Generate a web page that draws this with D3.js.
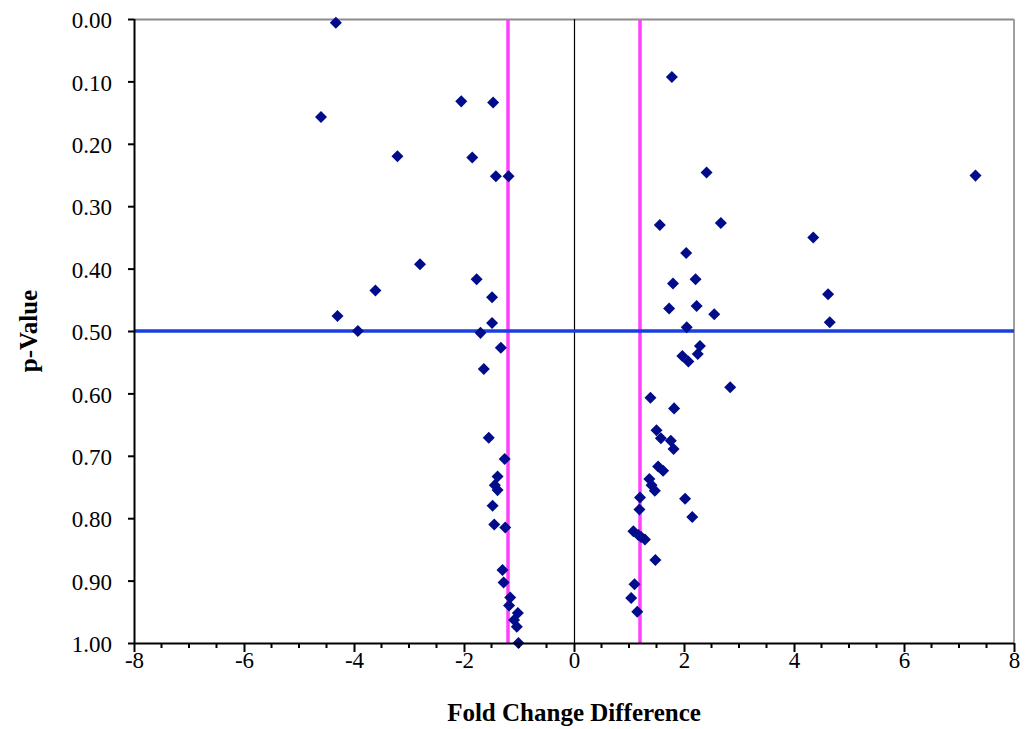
<!DOCTYPE html>
<html><head><meta charset="utf-8">
<script src="https://cdn.jsdelivr.net/npm/d3@7"></script>
<style>body{margin:0;background:#fff}svg{display:block}</style>
</head><body>
<svg id="c" width="1029" height="729"></svg>
<script>
const foldChange = [-4.33,-4.60,-3.21,-2.05,-1.47,-1.85,-1.42,-1.19,
 -2.80,-1.77,-3.61,-4.30,-3.93,-1.49,-1.49,-1.70,-1.33,-1.64,
 -1.55,-1.26,-1.39,-1.44,-1.39,-1.48,-1.45,-1.25,-1.30,-1.28,-1.16,-1.18,-1.02,-1.09,-1.04,-1.01,
 1.78,2.41,1.56,2.67,2.04,1.80,2.21,1.73,2.23,2.55,2.05,2.29,1.97,2.08,2.25,2.84,
 1.39,1.82,1.50,1.58,1.76,1.81,1.53,1.62,1.37,1.41,1.47,1.20,2.02,
 1.19,2.15,1.08,1.17,1.29,1.22,1.48,1.10,1.04,1.15,
 7.30,4.35,4.62,4.65];
const pValue = [0.006,0.157,0.220,0.132,0.134,0.222,0.252,0.252,
 0.393,0.417,0.435,0.476,0.500,0.446,0.487,0.503,0.527,0.561,
 0.671,0.705,0.733,0.747,0.755,0.780,0.810,0.815,0.883,0.903,0.927,0.940,0.952,0.963,0.974,1.000,
 0.093,0.246,0.330,0.327,0.375,0.424,0.417,0.464,0.460,0.473,0.494,0.524,0.540,0.549,0.537,0.590,
 0.607,0.624,0.659,0.672,0.676,0.689,0.717,0.724,0.737,0.747,0.756,0.767,0.769,
 0.786,0.798,0.821,0.827,0.834,0.830,0.867,0.906,0.928,0.950,
 0.251,0.350,0.441,0.486];
const xTicks = [-8,-6,-4,-2,0,2,4,6,8];
const yTicks = [0,0.1,0.2,0.3,0.4,0.5,0.6,0.7,0.8,0.9,1.0];
const foldCutoffs = [-1.2, 1.2];
const pCutoff = [0.5];

const svg = d3.select("#c");
const L=134,R=1014,T=19,B=643;
const x = d3.scaleLinear().domain([-8,8]).range([L,R]);
const y = d3.scaleLinear().domain([0,1]).range([T,B]);
const font = "'Liberation Serif','Times New Roman',serif";

// frame top/right gray
svg.append("line").attr("x1",L).attr("x2",R).attr("y1",T+0.5).attr("y2",T+0.5).attr("stroke","#8c8c8c").attr("stroke-width",2);
svg.append("line").attr("x1",R).attr("x2",R).attr("y1",T).attr("y2",B).attr("stroke","#a0a0a0").attr("stroke-width",2);

// zero line
svg.append("line").attr("x1",x(0)+0.5).attr("x2",x(0)+0.5).attr("y1",T).attr("y2",B).attr("stroke","#000").attr("stroke-width",1.2);

// cutoff lines
svg.selectAll("line.fc").data(foldCutoffs).enter().append("line")
  .attr("x1",d=>x(d)).attr("x2",d=>x(d)).attr("y1",T).attr("y2",B)
  .attr("stroke","#ff40ff").attr("stroke-width",3.5);
svg.selectAll("line.pc").data(pCutoff).enter().append("line")
  .attr("x1",L).attr("x2",R).attr("y1",d=>y(d)).attr("y2",d=>y(d))
  .attr("stroke","#1a3fe0").attr("stroke-width",3.5);

// points
const pts = d3.range(foldChange.length).map(i=>({x:foldChange[i],y:pValue[i]}));
svg.append("g").selectAll("path").data(pts).enter().append("path")
  .attr("d",d3.symbol().type(d3.symbolDiamond2).size(92))
  .attr("transform",d=>`translate(${x(d.x)},${y(d.y)})`)
  .attr("fill","#000c8a");

// y axis
const yAxis = d3.axisLeft(y).tickValues(yTicks).tickFormat(d3.format(".2f")).tickSize(6).tickPadding(16);
const gy = svg.append("g").attr("transform",`translate(${L},0)`).call(yAxis);
gy.select(".domain").attr("stroke","#000").attr("stroke-width",2).attr("d",`M0.5,${T}V${B}`);
gy.selectAll(".tick line").attr("stroke","#000").attr("stroke-width",2);
gy.selectAll("text").attr("font-family",font).attr("font-size",23).attr("fill","#000").attr("dy","0.38em");

// x axis minor
const minor = d3.range(-8,8.01,0.5).filter(v=>Math.abs(v%2)>1e-9);
svg.append("g").selectAll("line").data(minor).enter().append("line")
  .attr("x1",d=>x(d)).attr("x2",d=>x(d)).attr("y1",B).attr("y2",B+5)
  .attr("stroke","#000").attr("stroke-width",2);
const xAxis = d3.axisBottom(x).tickValues(xTicks).tickFormat(d=>String(d)).tickSize(9).tickPadding(0);
const gx = svg.append("g").attr("transform",`translate(0,${B})`).call(xAxis);
gx.select(".domain").attr("stroke","#000").attr("stroke-width",2).attr("d",`M${L},0.5H${R}`);
gx.selectAll(".tick line").attr("stroke","#000").attr("stroke-width",2);
gx.selectAll("text").attr("font-family",font).attr("font-size",23).attr("fill","#000");

// titles
svg.append("text").attr("x",(L+R)/2).attr("y",721).attr("text-anchor","middle")
  .attr("font-family",font).attr("font-weight","bold").attr("font-size",25).text("Fold Change Difference");
svg.append("text").attr("transform",`translate(37,${y(0.5)}) rotate(-90)`).attr("text-anchor","middle")
  .attr("font-family",font).attr("font-weight","bold").attr("font-size",25).text("p-Value");
</script>
</body></html>
